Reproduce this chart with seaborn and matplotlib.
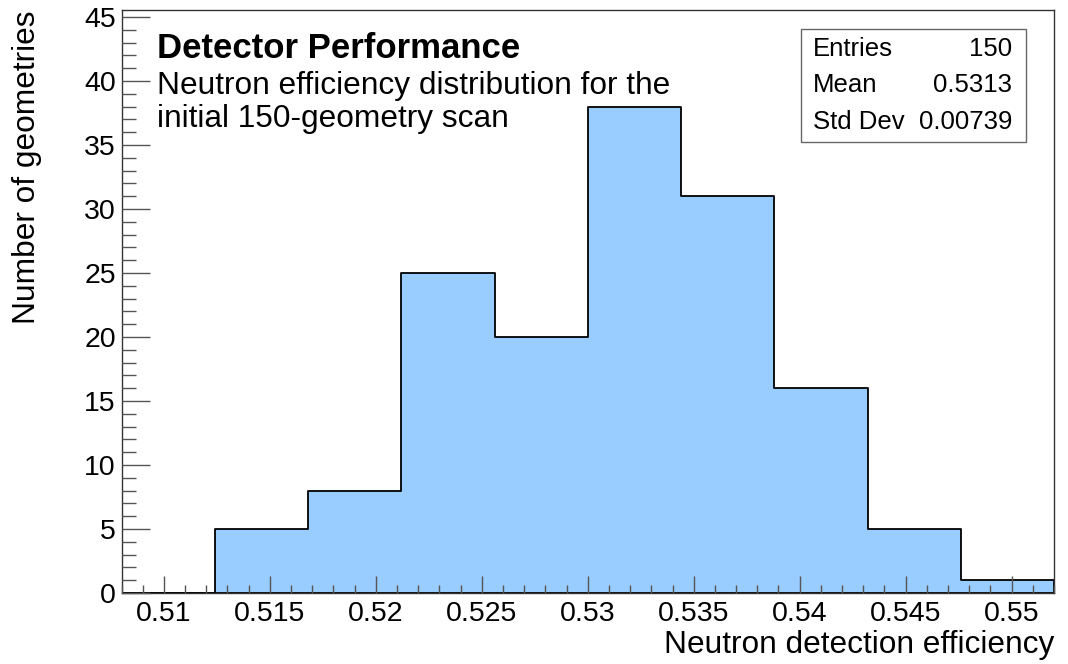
import numpy as np
import pandas as pd
import matplotlib
matplotlib.use("Agg")
import matplotlib.pyplot as plt
from matplotlib.ticker import MultipleLocator, FuncFormatter
from matplotlib.patches import Rectangle
import seaborn as sns

# ---- data ----
x_min, x_max, n_bins = 0.508, 0.552, 10
counts = [0, 5, 8, 25, 20, 38, 31, 16, 5, 1]
stat_names = ["Entries", "Mean", "Std Dev"]
stat_values = ["150", "0.5313", "0.00739"]
title = "Detector Performance"
subtitle = ["Neutron efficiency distribution for the", "initial 150-geometry scan"]
x_label = "Neutron detection efficiency"
y_label = "Number of geometries"

edges = [float(e) for e in np.linspace(x_min, x_max, n_bins + 1)]
centers = [0.5 * (edges[i] + edges[i + 1]) for i in range(n_bins)]
df = pd.DataFrame({"eff": centers, "n": counts})

sns.set_style("ticks")
plt.rcParams["font.family"] = ["Liberation Sans", "DejaVu Sans"]
plt.rcParams["text.color"] = "black"
plt.rcParams["axes.labelcolor"] = "black"
plt.rcParams["xtick.labelcolor"] = "black"
plt.rcParams["ytick.labelcolor"] = "black"

W, H = 1068, 664
fig = plt.figure(figsize=(W / 100, H / 100), dpi=100)
L, R, T, B = 121.5, 1054, 10, 593
ax = fig.add_axes([L / W, 1 - B / H, (R - L) / W, (B - T) / H])

sns.histplot(data=df, x="eff", weights="n", bins=edges, element="step", fill=True,
             color="#99ccff", alpha=1.0, edgecolor="black", linewidth=1.3, ax=ax)

ax.set_xlim(x_min, x_max)
ax.set_ylim(0, 45.55)
ax.set_axisbelow(False)

ax.xaxis.set_major_locator(MultipleLocator(0.005))
ax.xaxis.set_minor_locator(MultipleLocator(0.001))
ax.yaxis.set_major_locator(MultipleLocator(5))
ax.yaxis.set_minor_locator(MultipleLocator(1))
ax.xaxis.set_major_formatter(FuncFormatter(lambda v, p: f"{v:g}"))
ax.yaxis.set_major_formatter(FuncFormatter(lambda v, p: f"{v:g}"))

ax.tick_params(axis="x", which="major", direction="in", length=12, width=1,
               color="#555555", labelsize=20.5, pad=6, top=False)
ax.tick_params(axis="x", which="minor", direction="in", length=6, width=1,
               color="#555555", top=False)
ax.tick_params(axis="y", which="major", direction="in", length=20, width=1,
               color="#555555", labelsize=20.5, pad=4, right=False)
ax.tick_params(axis="y", which="minor", direction="in", length=10, width=1,
               color="#555555", right=False)
for s in ax.spines.values():
    s.set_color("#333333")
    s.set_linewidth(1.0)
    s.set_visible(True)

ax.set_xlabel(x_label, fontsize=22.8, loc="right")
ax.set_ylabel(y_label, fontsize=22.8, loc="top")
ax.xaxis.label.set_va("baseline")
ax.yaxis.label.set_va("baseline")
ax.xaxis.set_label_coords(1.0, (B - 652.5) / (B - T))
ax.yaxis.set_label_coords((35 - L) / (R - L), 1.0)

# title and subtitle
fig.text(157 / W, 1 - 57.5 / H, title, fontsize=25, fontweight="bold", va="baseline", ha="left")
fig.text(157 / W, 1 - 94 / H, subtitle[0], fontsize=22.8, va="baseline", ha="left")
fig.text(157 / W, 1 - 127 / H, subtitle[1], fontsize=22.8, va="baseline", ha="left")

# stats box
bx0, bx1, by0, by1 = 801, 1026, 29, 142
fig.patches.append(Rectangle((bx0 / W, 1 - by1 / H), (bx1 - bx0) / W, (by1 - by0) / H,
                             transform=fig.transFigure, facecolor="white",
                             edgecolor="#666666", linewidth=1.0, zorder=5))
for i, (nm, val) in enumerate(zip(stat_names, stat_values)):
    yb = [56, 92.5, 129][i]
    fig.text(813 / W, 1 - yb / H, nm, fontsize=18.5, va="baseline", ha="left", zorder=6)
    fig.text(1012 / W, 1 - yb / H, val, fontsize=18.5, va="baseline", ha="right", zorder=6)

fig.savefig("out.png", dpi=100)
